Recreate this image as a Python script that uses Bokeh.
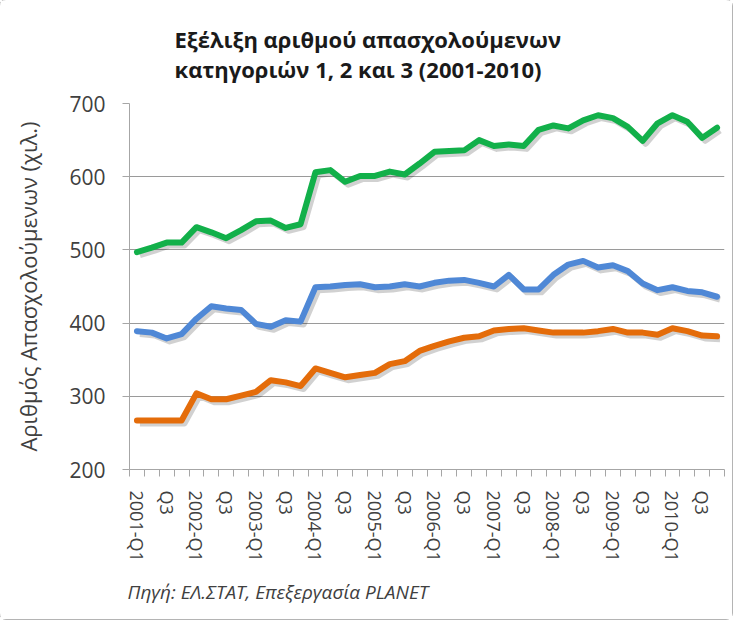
from bokeh.plotting import figure
from bokeh.models import FixedTicker, Title, ColumnDataSource
from bokeh.embed import file_html
from bokeh.resources import INLINE

# ---------------- data ----------------
years = [2001, 2002, 2003, 2004, 2005, 2006, 2007, 2008, 2009, 2010]
quarters = [f"{y}-Q{q}" for y in years for q in (1, 2, 3, 4)]

green_series = [497, 503, 510, 510, 531, 524, 516, 527, 539, 540,
                530, 535, 606, 609, 593, 601, 601, 607, 603, 618,
                634, 635, 636, 650, 642, 644, 642, 664, 670, 666,
                677, 684, 680, 668, 649, 673, 684, 675, 653, 667]
blue_series = [389, 387, 379, 385, 406, 423, 420, 418, 399, 395,
               404, 402, 449, 450, 452, 453, 449, 450, 453, 450,
               455, 458, 459, 455, 450, 466, 446, 446, 466, 480,
               485, 476, 479, 471, 454, 445, 449, 444, 442, 436]
orange_series = [267, 267, 267, 267, 304, 296, 296, 301, 306, 322,
                 319, 314, 338, 332, 326, 329, 332, 344, 348, 362,
                 369, 375, 380, 382, 390, 392, 393, 390, 387, 387,
                 387, 389, 392, 387, 387, 384, 393, 389, 383, 382]

y_ticks = [200, 300, 400, 500, 600, 700]

title_lines = ["Εξέλιξη αριθμού απασχολούμενων",
               "κατηγοριών 1, 2 και 3 (2001-2010)"]
y_label = "Αριθμός Απασχολούμενων (χιλ.)"
source_note = "Πηγή: ΕΛ.ΣΤΑΤ, Επεξεργασία PLANET"

# ---------------- figure ----------------
FONT = "Open Sans"
TXT = "#404040"

idx = list(range(len(quarters)))

p = figure(width=732, height=619, output_backend="svg", toolbar_location=None,
           x_range=(-0.5, len(quarters) - 0.5), y_range=(200, 700),
           min_border_left=129, min_border_right=8, min_border_top=103,
           min_border_bottom=150)
p.styles = {"outline": "1px solid #b4b4b4", "border-radius": "6px"}
p.outline_line_color = None
p.background_fill_color = "white"
p.border_fill_color = "white"

# two-line title
p.title = Title(text="\n".join(title_lines), align="left", offset=45, standoff=40,
                text_font=FONT, text_font_size="22px", text_font_style="bold",
                text_color="#1a1a1a", text_line_height=1.0)

# y axis
p.yaxis.ticker = FixedTicker(ticks=y_ticks)
p.yaxis.major_tick_out = 7
p.yaxis.major_tick_in = 0
p.yaxis.minor_tick_out = 0
p.yaxis.minor_tick_in = 0
p.yaxis.axis_line_color = "#a6a6a6"
p.yaxis.major_tick_line_color = "#a6a6a6"
p.yaxis.major_label_text_font = FONT
p.yaxis.major_label_text_font_size = "21px"
p.yaxis.major_label_text_color = TXT
p.yaxis.major_label_standoff = 17
p.yaxis.axis_label = y_label
p.yaxis.axis_label_text_font = FONT
p.yaxis.axis_label_text_font_size = "22px"
p.yaxis.axis_label_text_font_style = "normal"
p.yaxis.axis_label_text_color = TXT
p.yaxis.axis_label_standoff = 23

# x axis: labels every other quarter, ticks at category boundaries
major = idx[::2]
overrides = {i: (quarters[i] if quarters[i].endswith("Q1") else quarters[i].split("-")[1])
             for i in major}
p.xaxis.ticker = FixedTicker(ticks=major, minor_ticks=[i - 0.5 for i in range(len(quarters) + 1)])
p.xaxis.major_label_overrides = overrides
p.xaxis.major_label_orientation = "vertical"
p.xaxis.major_tick_out = 0
p.xaxis.major_tick_in = 0
p.xaxis.minor_tick_out = 7
p.xaxis.minor_tick_in = 0
p.xaxis.axis_line_color = "#a6a6a6"
p.xaxis.minor_tick_line_color = "#a6a6a6"
p.xaxis.major_label_text_font = FONT
p.xaxis.major_label_text_font_size = "18px"
p.xaxis.major_label_text_color = TXT
p.xaxis.major_label_standoff = 14

# source note below the axis
p.add_layout(Title(text=source_note, align="left", offset=-2, standoff=24,
                   text_font=FONT, text_font_size="19px", text_font_style="italic",
                   text_color=TXT), "below")

p.xgrid.grid_line_color = None
p.ygrid.ticker = FixedTicker(ticks=y_ticks)
p.ygrid.grid_line_color = "#9a9a9a"
p.ygrid.grid_line_width = 1

# shadow offsets (in data units, approx 3px right / 3px down)
sx, sy = 0.2, 4.0
series = [(green_series, "#12B04A"), (blue_series, "#4F88D6"), (orange_series, "#E46C0A")]
for vals, col in series:
    src = ColumnDataSource(dict(xs=[v + sx for v in idx], ys=[v - sy for v in vals]))
    p.line("xs", "ys", source=src, line_color="#000000", line_alpha=0.18,
           line_width=6, line_join="round")
for vals, col in series:
    src = ColumnDataSource(dict(x=idx, y=vals))
    p.line("x", "y", source=src, line_color=col, line_width=6, line_join="round",
           line_cap="round")

open("out.html", "w").write(file_html(p, INLINE))
